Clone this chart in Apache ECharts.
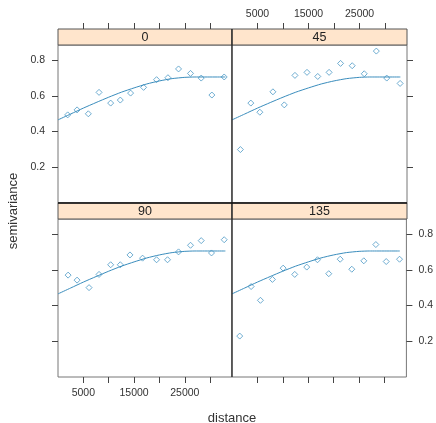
<!DOCTYPE html>
<html>
<head>
<meta charset="utf-8">
<script src="https://cdn.jsdelivr.net/npm/echarts@6/dist/echarts.min.js"></script>
<style>
  html, body { margin: 0; padding: 0; background: #fff; }
  #chart { width: 436px; height: 423px; }
</style>
</head>
<body>
<div id="chart"></div>
<script>
// panel titles (direction in degrees)
var panels = ['0', '45', '90', '135'];

// sample variogram per direction
var dist0 = [1910, 3760, 5980, 8090, 10380, 12280, 14310, 16870, 19430, 21670, 23760, 26120, 28230, 30330, 32760];
var gamma0 = [0.493, 0.521, 0.499, 0.619, 0.559, 0.576, 0.615, 0.647, 0.690, 0.701, 0.750, 0.725, 0.699, 0.604, 0.705];
var dist45 = [1650, 3690, 5460, 8020, 10250, 12340, 14700, 16810, 19030, 21280, 23560, 25920, 28290, 30330, 32950];
var gamma45 = [0.299, 0.559, 0.508, 0.622, 0.549, 0.714, 0.731, 0.708, 0.731, 0.781, 0.768, 0.723, 0.850, 0.699, 0.669];
var dist90 = [1990, 3760, 6120, 8090, 10380, 12280, 14190, 16670, 19430, 21590, 23760, 26120, 28230, 30260, 32760];
var gamma90 = [0.570, 0.542, 0.500, 0.574, 0.628, 0.628, 0.683, 0.665, 0.656, 0.656, 0.700, 0.737, 0.763, 0.694, 0.768];
var dist135 = [1520, 3760, 5590, 7950, 10060, 12340, 14700, 16810, 19030, 21280, 23560, 25920, 28290, 30330, 32950];
var gamma135 = [0.229, 0.506, 0.429, 0.546, 0.609, 0.574, 0.615, 0.656, 0.578, 0.659, 0.603, 0.650, 0.741, 0.646, 0.659];

// fitted model line (same in every panel)
var fitDist = [0, 2500, 5000, 7500, 10000, 12500, 15000, 17500, 20000, 22500, 25000, 27000, 33000];
var fitGamma = [0.465, 0.498, 0.531, 0.562, 0.592, 0.620, 0.644, 0.666, 0.683, 0.696, 0.703, 0.705, 0.705];

// ticks
var xTicks = [5000, 10000, 15000, 20000, 25000, 30000];
var xLabels = [5000, 15000, 25000];
var yTicks = [0.2, 0.4, 0.6, 0.8];

var dists = [dist0, dist45, dist90, dist135];
var gammas = [gamma0, gamma45, gamma90, gamma135];

function zip(a, b) {
    return a.map(function (v, i) { return [v, b[i]]; });
}

// layout of the 2x2 lattice
var L = 58, M = 232, R = 407;
var stripH = 16, panelH = 158;
var top1 = 29, top2 = 203;
var ptColor = '#4b98c6';
var lineColor = '#3a8dbd';
var font = 'Liberation Sans';

var boxes = [
    { x: L, y: top1, w: M - L },
    { x: M, y: top1, w: R - M },
    { x: L, y: top2, w: M - L },
    { x: M, y: top2, w: R - M }
];

var grids = [], xAxes = [], yAxes = [], series = [], graphics = [];

boxes.forEach(function (b, i) {
    grids.push({
        left: b.x, top: b.y + stripH, width: b.w, height: panelH,
        show: true, borderColor: '#777', borderWidth: 1, backgroundColor: '#fff'
    });
    var onTop = i < 2;
    var onLeft = i % 2 === 0;
    // labels alternate like lattice: top on 45, bottom on 90, left on 0, right on 135
    var showX = (i === 1 || i === 2);
    var showY = (i === 0 || i === 3);
    xAxes.push({
        gridIndex: i, type: 'value', min: 0, max: 34300,
        position: onTop ? 'top' : 'bottom',
        offset: onTop ? stripH : 0,
        axisLine: { show: false, onZero: false },
        splitLine: { show: false },
        axisTick: { show: true, inside: false, length: 6, customValues: xTicks,
            lineStyle: { color: '#444' } },
        axisLabel: { show: showX, customValues: xLabels, margin: onTop ? 9 : 11,
            color: '#333', fontSize: 10.5, fontFamily: font,
            formatter: function (v) { return String(v); } }
    });
    yAxes.push({
        gridIndex: i, type: 'value', min: 0, max: 0.884,
        position: onLeft ? 'left' : 'right',
        axisLine: { show: false, onZero: false },
        splitLine: { show: false },
        axisTick: { show: true, inside: false, length: 6, customValues: yTicks,
            lineStyle: { color: '#444' } },
        axisLabel: { show: showY, customValues: yTicks, margin: onLeft ? 13 : 12,
            color: '#333', fontSize: 10.5, fontFamily: font,
            formatter: function (v) { return v.toFixed(1); } }
    });
    series.push({
        type: 'line', xAxisIndex: i, yAxisIndex: i,
        data: zip(fitDist, fitGamma),
        showSymbol: false, smooth: 0.2, silent: true,
        lineStyle: { color: lineColor, width: 1 }
    });
    series.push({
        type: 'scatter', xAxisIndex: i, yAxisIndex: i,
        data: zip(dists[i], gammas[i]),
        symbol: 'diamond', symbolSize: 6,
        itemStyle: { color: 'rgba(0,0,0,0)', borderColor: ptColor, borderWidth: 1 }
    });
    // strip
    graphics.push({
        type: 'rect', shape: { x: b.x, y: b.y, width: b.w, height: stripH },
        style: { fill: '#ffe5cc', stroke: '#555', lineWidth: 1 }
    });
    graphics.push({
        type: 'text', x: b.x + b.w / 2, y: b.y + stripH / 2 + 1,
        style: { text: panels[i], fill: '#222', font: '12.5px ' + font,
            textAlign: 'center', textVerticalAlign: 'middle' }
    });
});

// dark dividers between panels
graphics.push({ type: 'line', shape: { x1: M, y1: top1, x2: M, y2: top2 + stripH + panelH },
    style: { stroke: '#111', lineWidth: 1 }, z: 10 });
graphics.push({ type: 'line', shape: { x1: L, y1: top2, x2: R, y2: top2 },
    style: { stroke: '#111', lineWidth: 1.5 }, z: 10 });

// axis titles
graphics.push({
    type: 'text', x: 13, y: 211, rotation: Math.PI / 2,
    style: { text: 'semivariance', fill: '#333', font: '13px ' + font,
        textAlign: 'center', textVerticalAlign: 'middle' }
});
graphics.push({
    type: 'text', x: 232, y: 418,
    style: { text: 'distance', fill: '#333', font: '13px ' + font,
        textAlign: 'center', textVerticalAlign: 'middle' }
});

var myChart = echarts.init(document.getElementById('chart'));
myChart.setOption({
    animation: false,
    grid: grids,
    xAxis: xAxes,
    yAxis: yAxes,
    series: series,
    graphic: graphics
});
</script>
</body>
</html>
